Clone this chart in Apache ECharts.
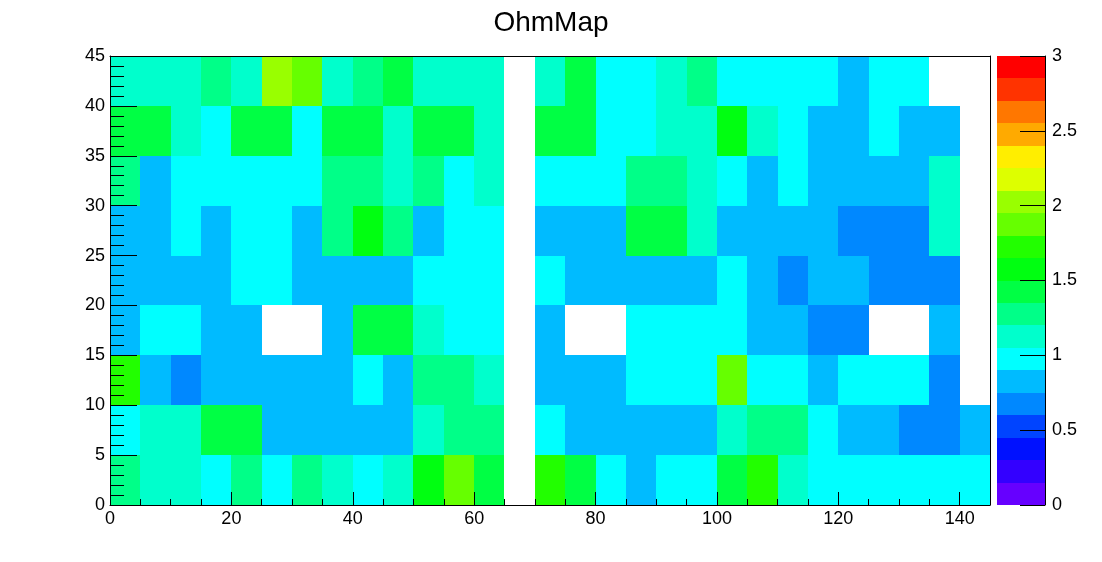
<!DOCTYPE html>
<html>
<head>
<meta charset="utf-8">
<script src="https://cdn.jsdelivr.net/npm/echarts@6/dist/echarts.min.js"></script>
<style>
html,body{margin:0;padding:0;background:#fff;}
#chart{width:1102px;height:562px;}
</style>
</head>
<body>
<div id="chart"></div>
<script>
// ---- data (bin lower edges, bin width 5) ----
const title = 'OhmMap';
const xBinWidth = 5;
const yBinWidth = 5;
const xMax = 145;
const yMax = 45;
const zMin = 0;
const zMax = 3;
const zLevels = 20;
const zTickValues = [0, 0.5, 1, 1.5, 2, 2.5, 3];

// rows from y = 0 upward, 29 columns each (x = 0..140); null = empty bin
const row_y0  = [1.28,1.12,1.12,0.97,1.28,0.97,1.28,1.12,0.97,1.12,1.57,1.87,1.43,null,1.72,1.43,0.97,0.83,0.97,0.97,1.43,1.72,1.12,0.97,0.97,0.97,0.97,0.97,0.97];
const row_y5  = [0.97,1.12,1.12,1.43,1.43,0.83,0.83,0.83,0.83,0.83,1.12,1.28,1.28,null,0.97,0.83,0.83,0.83,0.83,0.83,1.12,1.28,1.28,0.97,0.83,0.83,0.68,0.68,0.83];
const row_y10 = [1.72,0.83,0.68,0.83,0.83,0.83,0.83,0.83,0.97,0.83,1.28,1.28,1.12,null,0.83,0.83,0.83,0.97,0.97,0.97,1.87,0.97,0.97,0.83,0.97,0.97,0.97,0.68,null];
const row_y15 = [0.83,0.97,0.97,0.83,0.83,null,null,0.83,1.43,1.43,1.12,0.97,0.97,null,0.83,null,null,0.97,0.97,0.97,0.97,0.83,0.83,0.68,0.68,null,null,0.83,null];
const row_y20 = [0.83,0.83,0.83,0.83,0.97,0.97,0.83,0.83,0.83,0.83,0.97,0.97,0.97,null,0.97,0.83,0.83,0.83,0.83,0.83,0.97,0.83,0.68,0.83,0.83,0.68,0.68,0.68,null];
const row_y25 = [0.83,0.83,0.97,0.83,0.97,0.97,0.83,1.28,1.57,1.28,0.83,0.97,0.97,null,0.83,0.83,0.83,1.43,1.43,1.12,0.83,0.83,0.83,0.83,0.68,0.68,0.68,1.12,null];
const row_y30 = [1.28,0.83,0.97,0.97,0.97,0.97,0.97,1.28,1.28,1.12,1.28,0.97,1.12,null,0.97,0.97,0.97,1.28,1.28,1.12,0.97,0.83,0.97,0.83,0.83,0.83,0.83,1.12,null];
const row_y35 = [1.43,1.43,1.12,0.97,1.43,1.43,0.97,1.43,1.43,1.12,1.43,1.43,1.12,null,1.43,1.43,0.97,0.97,1.12,1.12,1.57,1.12,0.97,0.83,0.83,0.97,0.83,0.83,null];
const row_y40 = [1.12,1.12,1.12,1.28,1.12,2.02,1.87,1.12,1.28,1.43,1.12,1.12,1.12,null,1.12,1.43,0.97,0.97,1.12,1.28,0.97,0.97,0.97,0.97,0.83,0.97,0.97,null,null];
const rows = [row_y0,row_y5,row_y10,row_y15,row_y20,row_y25,row_y30,row_y35,row_y40];

// palette (style)
const palette = ['#6600ff','#3300ff','#0011ff','#0044ff','#0088ff','#00bbff','#00ffff','#00ffcc','#00ff88','#00ff44',
                 '#00ff11','#22ff00','#66ff00','#99ff00','#ddff00','#ffee00','#ffaa00','#ff7700','#ff3300','#ff0000'];

// ---- build ----
const step = (zMax - zMin) / zLevels;
function colorFor(v) {
  let i = Math.floor((v - zMin) / step);
  i = Math.max(0, Math.min(zLevels - 1, i));
  return palette[i];
}
const cells = [];
rows.forEach((r, j) => r.forEach((v, i) => {
  if (v !== null) cells.push([i * xBinWidth, j * yBinWidth, v]);
}));
const bands = [];
for (let k = 0; k < zLevels; k++) bands.push([zMin + k * step, zMin + (k + 1) * step, k]);

const font = 'Liberation Sans, Arial, Helvetica, sans-serif';
const chart = echarts.init(document.getElementById('chart'), null, {renderer: 'canvas'});
chart.setOption({
  backgroundColor: '#ffffff',
  animation: false,
  title: {
    text: title, left: 'center', top: 4,
    textStyle: {fontFamily: font, fontSize: 28, fontWeight: 'normal', color: '#000'}
  },
  grid: [
    {left: 110, top: 56, width: 880, height: 449},
    {left: 997, top: 56, width: 48, height: 449}
  ],
  xAxis: [
    {
      type: 'value', gridIndex: 0, min: 0, max: xMax, interval: 20, position: 'bottom', z: 10,
      axisLine: {show: true, onZero: false, lineStyle: {color: '#000', width: 1}},
      axisTick: {show: true, inside: true, length: 13, lineStyle: {color: '#000'}},
      minorTick: {show: true, splitNumber: 4, length: 6, lineStyle: {color: '#000'}},
      splitLine: {show: false},
      axisLabel: {color: '#000', fontFamily: font, fontSize: 18, margin: 5,
        formatter: v => (v % 20 === 0 ? String(v) : '')}
    },
    {
      type: 'value', gridIndex: 0, min: 0, max: xMax, position: 'top', z: 10,
      axisLine: {show: true, onZero: false, lineStyle: {color: '#000', width: 1}},
      axisTick: {show: false}, axisLabel: {show: false}, splitLine: {show: false}
    },
    {type: 'value', gridIndex: 1, min: 0, max: 1, show: false}
  ],
  yAxis: [
    {
      type: 'value', gridIndex: 0, min: 0, max: yMax, interval: 5, position: 'left', z: 10,
      axisLine: {show: true, onZero: false, lineStyle: {color: '#000', width: 1}},
      axisTick: {show: true, inside: true, length: 27, lineStyle: {color: '#000'}},
      minorTick: {show: true, splitNumber: 5, length: 14, lineStyle: {color: '#000'}},
      splitLine: {show: false},
      axisLabel: {color: '#000', fontFamily: font, fontSize: 18, margin: 5}
    },
    {
      type: 'value', gridIndex: 0, min: 0, max: yMax, position: 'right', z: 10,
      axisLine: {show: true, onZero: false, lineStyle: {color: '#000', width: 1}},
      axisTick: {show: false}, axisLabel: {show: false}, splitLine: {show: false}
    },
    {
      type: 'value', gridIndex: 1, min: zMin, max: zMax, interval: 0.5, position: 'right', z: 10,
      axisLine: {show: true, onZero: false, lineStyle: {color: '#000', width: 1}},
      axisTick: {show: true, inside: true, length: 25, lineStyle: {color: '#000'}},
      splitLine: {show: false},
      axisLabel: {color: '#000', fontFamily: font, fontSize: 18, margin: 7,
        formatter: v => (zTickValues.indexOf(v) >= 0 ? String(v) : '')}
    }
  ],
  series: [
    {
      type: 'custom', xAxisIndex: 0, yAxisIndex: 0, data: cells, encode: {x: 0, y: 1},
      renderItem: function (params, api) {
        const x = api.value(0), y = api.value(1), v = api.value(2);
        const p0 = api.coord([x, y + yBinWidth]);
        const p1 = api.coord([x + xBinWidth, y]);
        const x0 = Math.round(p0[0]), y0 = Math.round(p0[1]);
        const x1 = Math.round(p1[0]), y1 = Math.round(p1[1]);
        return {type: 'rect', shape: {x: x0, y: y0, width: x1 - x0, height: y1 - y0},
                style: {fill: colorFor(v), stroke: null}};
      }
    },
    {
      type: 'custom', xAxisIndex: 2, yAxisIndex: 2, data: bands, encode: {y: [0, 1]},
      renderItem: function (params, api) {
        const lo = api.value(0), hi = api.value(1), k = api.value(2);
        const p0 = api.coord([0, hi]);
        const p1 = api.coord([1, lo]);
        const x0 = Math.round(p0[0]), y0 = Math.round(p0[1]);
        const x1 = Math.round(p1[0]), y1 = Math.round(p1[1]);
        return {type: 'rect', shape: {x: x0, y: y0, width: x1 - x0, height: y1 - y0},
                style: {fill: palette[k], stroke: null}};
      }
    }
  ]
});
</script>
</body>
</html>
